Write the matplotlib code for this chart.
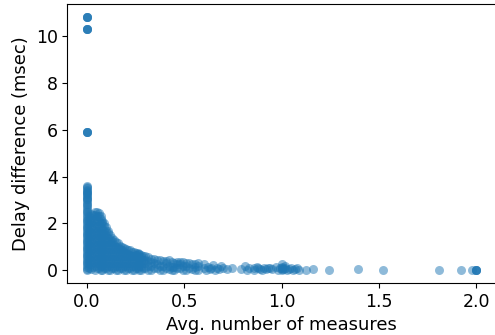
import matplotlib
matplotlib.use("Agg")
import matplotlib.pyplot as plt

# dense stacks: one x position per stack, with its delay values
col_x = [0.0, 0.0, 0.01, 0.02, 0.03, 0.04, 0.05, 0.06, 0.07, 0.08, 0.09,
         0.10, 0.11, 0.12, 0.13, 0.14, 0.15, 0.16, 0.17, 0.18, 0.19, 0.20,
         0.21, 0.22, 0.23, 0.24, 0.25, 0.26, 0.27, 0.28, 0.29, 0.30, 0.315,
         0.33, 0.345, 0.36, 0.375, 0.39, 0.405, 0.42, 0.435, 0.45, 0.465,
         0.48, 0.495, 0.51, 0.525, 0.54, 0.555, 0.57, 0.60]
col_y = [
    [0.0, 0.15, 0.3, 0.45, 0.6, 0.75, 0.9, 1.05, 1.2, 1.35, 1.5, 1.65, 1.8,
     1.95, 2.1, 2.25, 2.4, 2.55, 2.7, 2.85, 3.0, 3.1, 3.2, 3.3, 3.4, 3.5, 3.6],
    [0.07, 0.22, 0.37, 0.52, 0.67, 0.82, 0.97, 1.12, 1.27, 1.42, 1.57, 1.72,
     1.87, 2.02, 2.17, 2.32, 2.47, 2.62, 2.77, 2.92, 3.05, 3.15, 3.25, 3.35,
     3.45, 3.55],
    [0.1, 0.3, 0.5, 0.7, 0.9, 1.1, 1.3, 1.5, 1.7, 1.9, 2.1, 2.3],
    [0.05, 0.25, 0.45, 0.65, 0.85, 1.05, 1.25, 1.45, 1.65, 1.85, 2.05, 2.25, 2.4],
    [0.15, 0.35, 0.55, 0.75, 0.95, 1.15, 1.35, 1.55, 1.75, 1.95, 2.15, 2.35],
    [0.0, 0.2, 0.4, 0.6, 0.8, 1.0, 1.2, 1.4, 1.6, 1.8, 2.0, 2.2, 2.35, 2.5],
    [0.1, 0.3, 0.5, 0.7, 0.9, 1.1, 1.3, 1.5, 1.7, 1.9, 2.1, 2.3, 2.5],
    [0.1, 0.3, 0.5, 0.7, 0.9, 1.1, 1.3, 1.5, 1.7, 1.9, 2.1, 2.3, 2.45],
    [0.0, 0.2, 0.4, 0.6, 0.8, 1.0, 1.2, 1.4, 1.6, 1.8, 2.0, 2.2, 2.3],
    [0.0, 0.2, 0.4, 0.6, 0.8, 1.0, 1.2, 1.4, 1.6, 1.8, 2.0, 2.1],
    [0.1, 0.3, 0.5, 0.7, 0.9, 1.1, 1.3, 1.5, 1.7, 1.9, 2.0],
    [0.1, 0.3, 0.5, 0.7, 0.9, 1.1, 1.3, 1.5, 1.7, 1.85],
    [0.0, 0.2, 0.4, 0.6, 0.8, 1.0, 1.2, 1.4, 1.6, 1.7],
    [0.0, 0.2, 0.4, 0.6, 0.8, 1.0, 1.2, 1.35, 1.5],
    [0.1, 0.3, 0.5, 0.7, 0.9, 1.1, 1.25, 1.4],
    [0.1, 0.3, 0.5, 0.7, 0.9, 1.1, 1.3],
    [0.0, 0.2, 0.4, 0.6, 0.8, 1.0, 1.2],
    [0.0, 0.2, 0.4, 0.6, 0.8, 1.0, 1.15],
    [0.1, 0.3, 0.5, 0.7, 0.9, 1.05],
    [0.1, 0.3, 0.5, 0.7, 0.85, 1.0],
    [0.0, 0.2, 0.4, 0.6, 0.8, 0.95],
    [0.0, 0.2, 0.4, 0.6, 0.75, 0.9],
    [0.1, 0.3, 0.5, 0.7, 0.85],
    [0.1, 0.3, 0.5, 0.65, 0.85],
    [0.0, 0.2, 0.4, 0.6, 0.8],
    [0.0, 0.2, 0.4, 0.6, 0.8],
    [0.1, 0.3, 0.5, 0.65, 0.75],
    [0.1, 0.3, 0.5, 0.7, 0.75],
    [0.0, 0.2, 0.4, 0.55, 0.7],
    [0.0, 0.2, 0.4, 0.55, 0.65],
    [0.1, 0.3, 0.45, 0.6],
    [0.1, 0.3, 0.45, 0.6],
    [0.0, 0.2, 0.4, 0.55],
    [0.0, 0.2, 0.35, 0.5],
    [0.1, 0.3, 0.5],
    [0.1, 0.25, 0.45],
    [0.0, 0.2, 0.45],
    [0.0, 0.2, 0.4],
    [0.1, 0.3, 0.4],
    [0.05, 0.2, 0.45],
    [0.0, 0.15, 0.35],
    [0.0, 0.15, 0.3],
    [0.1, 0.25, 0.35],
    [0.1, 0.25, 0.35],
    [0.0, 0.2, 0.35],
    [0.0, 0.2, 0.3],
    [0.1, 0.3],
    [0.05, 0.25],
    [0.0, 0.15, 0.25],
    [0.0, 0.2, 0.3],
    [0.1, 0.25],
]

# sparse tail towards two measures
tail_x = [0.61, 0.62, 0.63, 0.64, 0.65, 0.66, 0.67, 0.68, 0.69, 0.70, 0.72,
          0.746, 0.79, 0.81, 0.82, 0.835, 0.86, 0.86, 0.875, 0.88, 0.89,
          0.90, 0.91, 0.92, 0.93, 0.94, 0.95, 0.97, 0.98, 0.99, 1.0, 1.0,
          1.0, 1.0, 1.0, 1.01, 1.02, 1.02, 1.03, 1.04, 1.05, 1.06, 1.07,
          1.08, 1.09, 1.125, 1.16, 1.245, 1.39, 1.52, 1.81, 1.92, 1.98,
          2.0, 2.0, 2.0, 2.0]
tail_y = [0.0, 0.15, 0.05, 0.1, 0.22, 0.0, 0.1, 0.05, 0.2, 0.1, 0.05,
          0.1, 0.05, 0.2, 0.0, 0.12, 0.1, 0.0, 0.15, 0.1, 0.05,
          0.0, 0.12, 0.05, 0.1, 0.12, 0.05, 0.15, 0.0, 0.1, 0.28, 0.0,
          0.15, 0.1, 0.05, 0.05, 0.2, 0.08, 0.0, 0.05, 0.1, 0.0, 0.05,
          0.1, 0.0, 0.02, 0.05, 0.0, 0.05, 0.0, 0.0, 0.0, 0.0,
          0.0, 0.0, 0.0, 0.02]

# large delays, all at zero measures (repeated samples)
peak_x = [0.0] * 12
peak_y = [5.92, 5.92, 5.92, 5.92, 10.32, 10.32, 10.32, 10.32,
          10.83, 10.83, 10.83, 10.83]

xs, ys = [], []
for x, yl in zip(col_x, col_y):
    xs += [x] * len(yl)
    ys += yl
xs += tail_x + peak_x
ys += tail_y + peak_y

fig = plt.figure(figsize=(4.95, 3.35), dpi=100)
ax = fig.add_axes([0.1362, 0.1552, 0.8653, 0.8328])
ax.scatter(xs, ys, s=42, alpha=0.5, color="#1f77b4", linewidths=0)

ax.set_xticks([0.0, 0.5, 1.0, 1.5, 2.0])
ax.set_yticks([0, 2, 4, 6, 8, 10])
ax.tick_params(labelsize=12.5)
ax.set_xlabel("Avg. number of measures", fontsize=12.9)
ax.set_ylabel("Delay difference (msec)", fontsize=12.9)

fig.savefig("out.png", dpi=100)
